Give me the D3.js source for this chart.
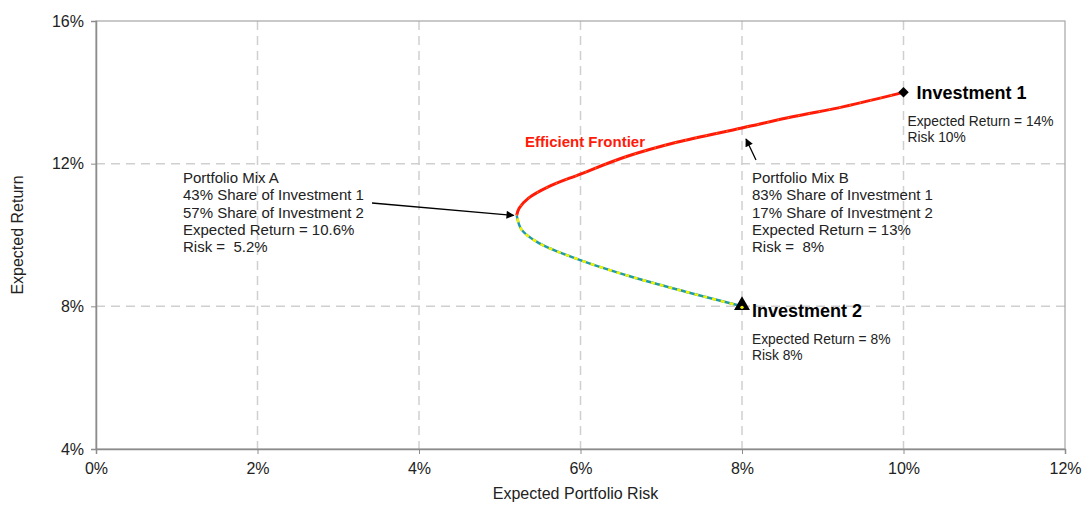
<!DOCTYPE html>
<html>
<head>
<meta charset="UTF-8">
<title>Efficient Frontier</title>
<script src="https://d3js.org/d3.v7.min.js"></script>
<style>
body { margin:0; background:white; }
text { font-family: "Liberation Sans", Arial, sans-serif; }
</style>
</head>
<body>
<script>
// values (percent)
var xTicks = [0, 2, 4, 6, 8, 10, 12];
var yTicks = [4, 8, 12, 16];
// lower (inefficient) branch: from Investment 2 up to the minimum risk point
var lowerRisk   = [8.0, 7.3, 6.63, 5.98, 5.48, 5.27, 5.21];
var lowerReturn = [8.0, 8.41, 8.83, 9.31, 9.78, 10.15, 10.55];
// upper (efficient) branch: from the minimum risk point to Investment 1
var upperRisk   = [5.21, 5.24, 5.36, 5.6, 5.99, 6.57, 7.19, 8.0, 8.64, 9.26, 10.0];
var upperReturn = [10.55, 10.75, 11.04, 11.35, 11.70, 12.20, 12.60, 13.0, 13.32, 13.60, 14.0];
var investments = [
  {name: "Investment 1", risk: 10, ret: 14, lines: ["Expected Return = 14%", "Risk 10%"]},
  {name: "Investment 2", risk: 8, ret: 8, lines: ["Expected Return = 8%", "Risk 8%"]}
];
var mixA = ["Portfolio Mix A", "43% Share of Investment 1", "57% Share of Investment 2", "Expected Return = 10.6%", "Risk =  5.2%"];
var mixB = ["Portfolio Mix B", "83% Share of Investment 1", "17% Share of Investment 2", "Expected Return = 13%", "Risk =  8%"];

var W = 1091, H = 505;
var pLeft = 96, pRight = 1065, pTop = 21, pBottom = 449;

var svg = d3.select("body").append("svg")
  .attr("width", W).attr("height", H);

var x = d3.scaleLinear().domain([0, 12]).range([pLeft, pRight]);
var y = d3.scaleLinear().domain([4, 16]).range([pBottom, pTop]);

var defs = svg.append("defs");
defs.append("marker").attr("id", "arr")
  .attr("viewBox", "0 0 10 10").attr("refX", 9).attr("refY", 5)
  .attr("markerWidth", 9).attr("markerHeight", 8).attr("orient", "auto")
  .attr("markerUnits", "userSpaceOnUse")
  .append("path").attr("d", "M0,0 L10,5 L0,10 z").attr("fill", "black");

// gridlines
svg.append("g").selectAll("line").data([2, 4, 6, 8, 10]).enter().append("line")
  .attr("x1", d => x(d)).attr("x2", d => x(d))
  .attr("y1", pTop).attr("y2", pBottom)
  .attr("stroke", "#cfcfcf").attr("stroke-width", 1.5).attr("stroke-dasharray", "9,6");
svg.append("g").selectAll("line").data([8, 12]).enter().append("line")
  .attr("x1", pLeft).attr("x2", pRight)
  .attr("y1", d => y(d)).attr("y2", d => y(d))
  .attr("stroke", "#cfcfcf").attr("stroke-width", 1.5).attr("stroke-dasharray", "9,6");

// plot border
svg.append("rect").attr("x", pLeft).attr("y", pTop)
  .attr("width", pRight - pLeft).attr("height", pBottom - pTop)
  .attr("fill", "none").attr("stroke", "#a6a6a6").attr("stroke-width", 1.2);

// axes
var xAxis = svg.append("g").attr("transform", "translate(0," + pBottom + ")")
  .call(d3.axisBottom(x).tickValues(xTicks).tickFormat(d => d + "%").tickSize(5).tickPadding(9));
var yAxis = svg.append("g").attr("transform", "translate(" + pLeft + ",0)")
  .call(d3.axisLeft(y).tickValues(yTicks).tickFormat(d => d + "%").tickSize(5).tickPadding(7));
[xAxis, yAxis].forEach(function(a) {
  a.select(".domain").attr("stroke", "#8c8c8c").attr("stroke-width", 1.5);
  a.selectAll(".tick line").attr("stroke", "#8c8c8c");
  a.selectAll(".tick text").attr("font-size", 16).attr("fill", "#222")
    .attr("font-family", "Liberation Sans, Arial, sans-serif");
});

svg.append("text").attr("x", (pLeft + pRight) / 2 - 5).attr("y", 499)
  .attr("text-anchor", "middle").attr("font-size", 16).attr("fill", "#222")
  .text("Expected Portfolio Risk");
svg.append("text").attr("transform", "translate(23," + ((pTop + pBottom) / 2) + ") rotate(-90)")
  .attr("text-anchor", "middle").attr("font-size", 16).attr("fill", "#222")
  .text("Expected Return");

// frontier
var line = d3.line().x(d => x(d[0])).y(d => y(d[1])).curve(d3.curveCatmullRom);
var lower = lowerRisk.map((r, i) => [r, lowerReturn[i]]);
var upper = upperRisk.map((r, i) => [r, upperReturn[i]]);

svg.append("path").datum(lower).attr("d", line)
  .attr("fill", "none").attr("stroke", "#1f9aa8").attr("stroke-width", 2.5);
svg.append("path").datum(lower).attr("d", line)
  .attr("fill", "none").attr("stroke", "#f2f200").attr("stroke-width", 2.5)
  .attr("stroke-dasharray", "4,5");
svg.append("path").datum(upper).attr("d", line)
  .attr("fill", "none").attr("stroke", "#ff1a0a").attr("stroke-width", 3);
svg.append("path").datum(upper).attr("d", line)
  .attr("fill", "none").attr("stroke", "#f2e200").attr("stroke-width", 1)
  .attr("stroke-dasharray", "1.5,9").attr("opacity", 0.6);

// investment markers
svg.append("path")
  .attr("d", d3.symbol().type(d3.symbolSquare).size(55))
  .attr("transform", "translate(" + x(investments[0].risk) + "," + y(investments[0].ret) + ") rotate(45)")
  .attr("fill", "black");
svg.append("path")
  .attr("d", d3.symbol().type(d3.symbolTriangle).size(110))
  .attr("transform", "translate(" + x(investments[1].risk) + "," + (y(investments[1].ret) - 1) + ")")
  .attr("fill", "black");
svg.append("circle").attr("cx", x(8)).attr("cy", y(8) + 1).attr("r", 1.7).attr("fill", "#f2f200");

// investment labels
var invPos = [{dx: 13, dy: 7, sx: 4}, {dx: 10, dy: 11, sx: 10}];
investments.forEach(function(d, i) {
  var px = x(d.risk), py = y(d.ret), p = invPos[i];
  svg.append("text").attr("x", px + p.dx).attr("y", py + p.dy)
    .attr("font-size", 18).attr("font-weight", "bold").attr("fill", "black").text(d.name);
  svg.append("g").selectAll("text").data(d.lines).enter().append("text")
    .attr("x", px + p.sx).attr("y", (t, j) => py + p.dy + 27 + j * 16)
    .attr("font-size", 13.8).attr("fill", "#222").text(t => t);
});

svg.append("text").attr("x", 525).attr("y", 147)
  .attr("font-size", 15).attr("font-weight", "bold").attr("fill", "#ff1a0a")
  .text("Efficient Frontier");

// portfolio mix notes
function note(lines, tx) {
  svg.append("g").selectAll("text").data(lines).enter().append("text")
    .attr("x", tx).attr("y", (t, j) => 183 + j * 17.3)
    .attr("font-size", 15).attr("fill", "#222")
    .attr("xml:space", "preserve").style("white-space", "pre").text(t => t);
}
note(mixA, 183);
note(mixB, 752);

svg.append("line").attr("x1", 372).attr("y1", 203).attr("x2", x(5.21) - 3).attr("y2", y(10.55))
  .attr("stroke", "black").attr("stroke-width", 1.3).attr("marker-end", "url(#arr)");
svg.append("line").attr("x1", 756).attr("y1", 160).attr("x2", x(8.05)).attr("y2", y(12.97) + 10)
  .attr("stroke", "black").attr("stroke-width", 1.3).attr("marker-end", "url(#arr)");
</script>
</body>
</html>
